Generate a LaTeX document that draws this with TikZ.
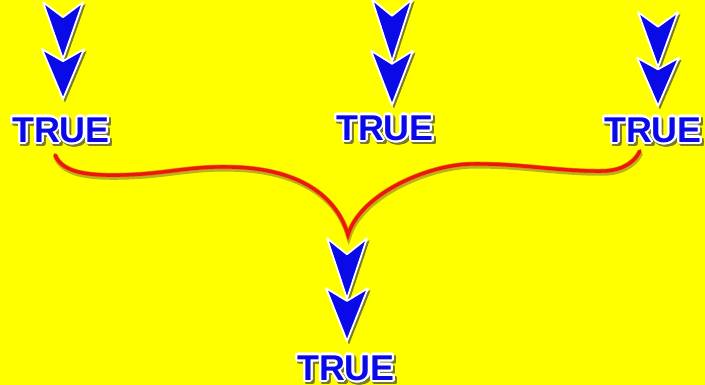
\documentclass[tikz,border=0pt]{standalone}
\usepackage{fontspec}
\setmainfont{Liberation Sans}
\usepackage[copies]{contour}
\contourlength{1.5pt}
\contournumber{20}
\usepackage{xcolor}
\definecolor{cYellow}{HTML}{FFFF00}
\definecolor{cBlue}{HTML}{0A0AE8}
\definecolor{cRed}{HTML}{E8180A}
\definecolor{cOrange}{HTML}{F47A10}
\definecolor{cShadow}{HTML}{7A7A2E}
\usetikzlibrary{positioning,calc}
% label text with white outline and a small drop shadow
\newcommand{\truelbl}[1]{\makebox[0pt][l]{\hspace{1.4pt}\raisebox{-1.6pt}[0pt][0pt]{%
  \contour{cShadow}{\textcolor{cShadow}{#1}}}}\contour{white}{#1}}
\tikzset{
  node-true/.style={inner sep=0pt,text=cBlue,
    font=\bfseries\fontsize{25.5}{30}\selectfont},
  chev/.style={fill=cBlue,draw=white,line width=1.3pt,line join=round,
    preaction={fill=cShadow,draw=cShadow,
      transform canvas={shift={(1.4pt,-1.8pt)}}}},
  arrow-brace/.style={draw=cRed,line width=2.4pt,line cap=round,
    preaction={draw=cShadow,draw opacity=.55,line width=3.4pt,
      transform canvas={shift={(0.6pt,-1.6pt)}}},
    preaction={draw=cOrange,line width=3.3pt}},
  pics/dblchev/.style={code={
    \filldraw[chev] (0,-40) -- (20,-97) -- (0,-82) -- (-20,-97) -- cycle;
    \filldraw[chev] (0,0) -- (21,-50) -- (0,-38) -- (-21,-50) -- cycle;
  }},
}
\begin{document}
\begin{tikzpicture}[x=0.25mm,y=-0.25mm]
  \path[use as bounding box,fill=cYellow] (0,0) rectangle (705,385);
  \clip (0,0) rectangle (705,385);
  % the four TRUE labels
  \node[node-true] (trueL)   at (61,131)  {\truelbl{TRUE}};
  \node[node-true] (trueM)   at (385,129) {\truelbl{TRUE}};
  \node[node-true] (trueR)   at (653,131) {\truelbl{TRUE}};
  \node[node-true] (trueOut) at (346,369) {\truelbl{TRUE}};
  \coordinate (join) at (348,235);
  % double arrows
  \pic at ($(trueL.north)+(2,-18)$) {dblchev};
  \pic[yscale=1.09] at ($(trueM.north)+(7,-10)$) {dblchev};
  \pic[yscale=.97] at ($(trueR.north)+(5,-11)$) {dblchev};
  \pic[yscale=1.06] at ($(trueOut.north)+(1,-14)$) {dblchev};
  % brace
  \draw[arrow-brace] ($(trueL.south)+(-6,10)$)
    .. controls (62,172) and (85,176) .. (123,175)
    .. controls (165,174) and (190,166) .. (230,167)
    .. controls (290,168) and (335,190) .. (join)
    .. controls (360,195) and (425,165.5) .. (470,164)
    .. controls (520,163) and (560,172) .. (605,171)
    .. controls (625,170) and (636,160) .. ($(trueR.south)+(-13,6)$);
\end{tikzpicture}
\end{document}
